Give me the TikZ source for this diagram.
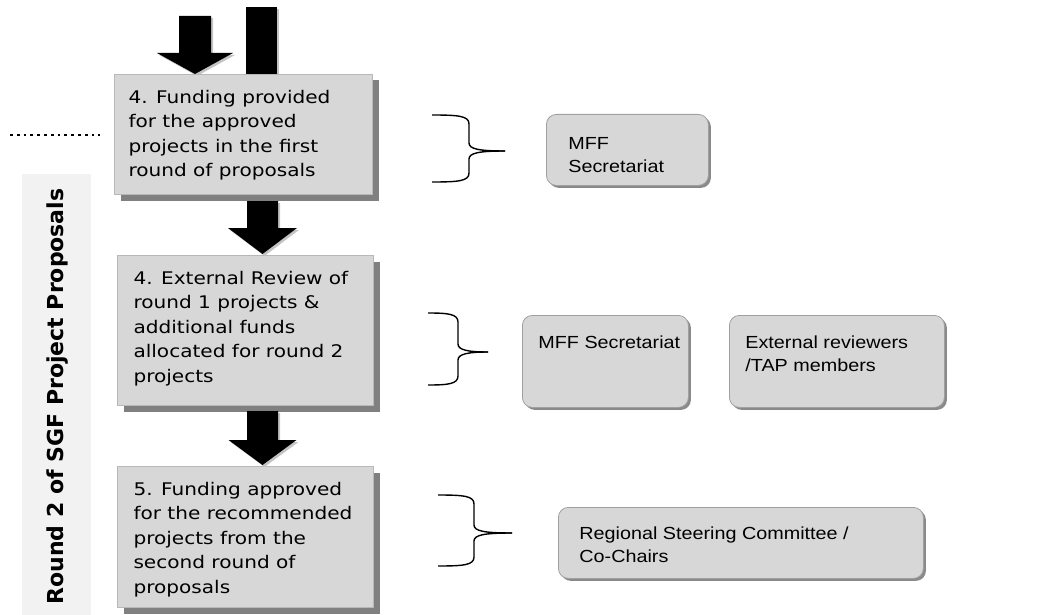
\documentclass[tikz,border=0pt]{standalone}
\usepackage{fontspec}
\setmainfont{DejaVu Sans}
\newfontfamily\stepfont{DejaVu Sans}[FakeStretch=1.154]
\newfontfamily\rolefont{Liberation Sans}[FakeStretch=1.13]
\newfontfamily\sidefont{DejaVu Sans}
\usetikzlibrary{shadows,calc}

\definecolor{boxfill}{HTML}{D7D7D7}
\definecolor{boxedge}{HTML}{B8B8B8}
\definecolor{boxshadow}{HTML}{808080}
\definecolor{roleedge}{HTML}{A0A0A0}
\definecolor{roleshadow}{HTML}{8A8A8A}
\definecolor{sidefill}{HTML}{F2F2F2}
\definecolor{arrowshade}{HTML}{C4C4C4}

% height, width, left pad, first baseline, text
\newcommand\padbox[5]{\parbox[c][#1][t]{#2}{\raggedright\leftskip=#3\relax\rule{0pt}{#4}#5}}

% start, tip, shaft half width, head half width, head length
\newcommand\fatarrow[5]{%
  \fill[arrowshade] let \p1=(#1), \p2=(#2) in
    (\x1-#3+2pt,\y1-2pt) -- (\x1+#3+2pt,\y1-2pt) -- (\x1+#3+2pt,\y2+#5-2pt) -- (\x1+#4+2pt,\y2+#5-2pt)
    -- (\x1+2pt,\y2-2pt) -- (\x1-#4+2pt,\y2+#5-2pt) -- (\x1-#3+2pt,\y2+#5-2pt) -- cycle;
  \fill[black] let \p1=(#1), \p2=(#2) in
    (\x1-#3,\y1) -- (\x1+#3,\y1) -- (\x1+#3,\y2+#5) -- (\x1+#4,\y2+#5)
    -- (\x1,\y2) -- (\x1-#4,\y2+#5) -- (\x1-#3,\y2+#5) -- cycle;
}

% left, vertical x, tip x, top, middle, bottom
\newcommand\rolebrace[6]{%
  \draw[bracepen] (#1,#4) .. controls (#2-10,#4) and (#2,#4+1) .. (#2,#4+9)
     -- (#2,#5-8) .. controls (#2,#5-2) and (#2+10,#5) .. (#3,#5);
  \draw[bracepen] (#1,#6) .. controls (#2-10,#6) and (#2,#6-1) .. (#2,#6-9)
     -- (#2,#5+8) .. controls (#2,#5+2) and (#2+10,#5) .. (#3,#5);
}

\tikzset{
  stepbox/.style={draw=boxedge, line width=1pt, fill=boxfill, inner sep=0pt, anchor=north west,
    drop shadow={shadow xshift=6pt, shadow yshift=-6pt, fill=boxshadow, opacity=1},
    font=\stepfont\fontsize{17.4}{24.5}\selectfont},
  rolebox/.style={draw=roleedge, line width=0.8pt, fill=boxfill, rounded corners=10pt, inner sep=0pt, anchor=north west,
    drop shadow={shadow xshift=2.5pt, shadow yshift=-2.5pt, fill=roleshadow, opacity=1},
    font=\rolefont\fontsize{17.5}{23}\selectfont},
  bracepen/.style={line width=1.4pt, black},
  dotline/.style={line width=2.8pt, dash pattern=on 2.8pt off 4pt, black},
  sidelabel/.style={rotate=90, anchor=base, font=\sidefont\bfseries\fontsize{22}{26}\selectfont},
}

\begin{document}
\begin{tikzpicture}[x=1pt,y=-1pt]
\useasboundingbox (0,0) rectangle (1063,615);

% side band and label
\fill[sidefill] (22,174) rectangle (91,615);
\node[sidelabel] (side) at (63,396.5) {Round 2 of SGF Project Proposals};

% dotted line
\coordinate (dotA) at (10,135);
\coordinate (dotB) at (100,135);
\draw[dotline] (dotA) -- (dotB);

% incoming arrows at the top
\coordinate (inA) at (195,16);
\coordinate (inAtip) at (195,74);
\fatarrow{inA}{inAtip}{16pt}{38pt}{21pt}
\coordinate (inB) at (246,7);
\coordinate (inBend) at (277,76);
\fill[arrowshade] ($(inB)+(2,2)$) rectangle ($(inBend)+(2,0)$);
\fill[black] (inB) rectangle (inBend);

% step boxes
\node[stepbox] (b1) at (114,74) {\padbox{120pt}{258pt}{14pt}{29pt}{4. Funding provided\\for the approved\\projects in the first\\round of proposals}};
\node[stepbox] (b2) at (117,255) {\padbox{150pt}{256pt}{16pt}{28.5pt}{4. External Review of\\round 1 projects \&\\additional funds\\allocated for round 2\\projects}};
\node[stepbox] (b3) at (117,466) {\padbox{141pt}{256pt}{16pt}{28.5pt}{5. Funding approved\\for the recommended\\projects from the\\second round of\\proposals}};

% arrows between steps
\coordinate (a12s) at ($(b1.south west)+(148.5,6)$);
\coordinate (a12e) at ($(b2.north west)+(145.5,-1)$);
\fatarrow{a12s}{a12e}{15.5pt}{34.5pt}{26pt}
\coordinate (a23s) at ($(b2.south west)+(145.5,5)$);
\coordinate (a23e) at ($(b3.north west)+(145.5,-1)$);
\fatarrow{a23s}{a23e}{15.5pt}{34pt}{25pt}

% braces
\rolebrace{432}{469}{505}{115}{151}{182}
\rolebrace{428}{458}{488}{313}{352}{385}
\rolebrace{438}{474}{512}{495}{533}{566}

% role boxes
\node[rolebox] (m1) at (546,114) {\padbox{71pt}{162pt}{22pt}{35pt}{MFF\\Secretariat}};
\node[rolebox] (m2) at (522,315) {\padbox{92pt}{166pt}{16pt}{33pt}{MFF Secretariat}};
\node[rolebox] (e2) at (729,315) {\padbox{92pt}{215pt}{16pt}{33pt}{External reviewers\\/TAP members}};
\node[rolebox] (r3) at (558,507) {\padbox{71pt}{365pt}{21pt}{32pt}{Regional Steering Committee /\\Co-Chairs}};
\end{tikzpicture}
\end{document}
